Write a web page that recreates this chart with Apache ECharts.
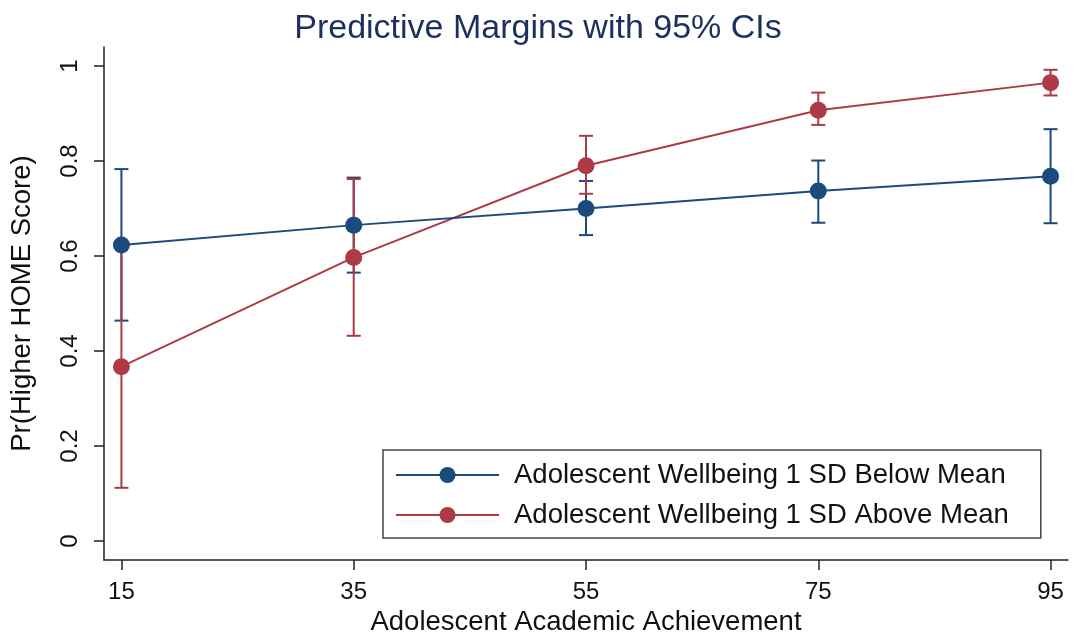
<!DOCTYPE html>
<html>
<head>
<meta charset="utf-8">
<script src="https://cdn.jsdelivr.net/npm/echarts@6/dist/echarts.min.js"></script>
<style>
  html, body { margin: 0; padding: 0; background: #fff; }
  #main { width: 1076px; height: 634px; }
</style>
</head>
<body>
<div id="main"></div>
<script>
// data
var achievement = [15, 35, 55, 75, 95];
var xTicks = [15, 35, 55, 75, 95];
var yTicks = [0, 0.2, 0.4, 0.6, 0.8, 1];

var belowMean = [0.623, 0.665, 0.700, 0.737, 0.768];
var belowLow  = [0.464, 0.565, 0.644, 0.670, 0.669];
var belowHigh = [0.783, 0.765, 0.758, 0.801, 0.867];

var aboveMean = [0.367, 0.597, 0.790, 0.907, 0.965];
var aboveLow  = [0.112, 0.432, 0.731, 0.876, 0.938];
var aboveHigh = [0.623, 0.762, 0.853, 0.944, 0.992];

var blue = '#1b4a7c';
var red = '#ad3a44';
var font = 'Liberation Sans, Arial, sans-serif';

var myChart = echarts.init(document.getElementById('main'));

function pairs(ys) {
    return achievement.map(function (x, i) { return [x, ys[i]]; });
}
function ciData(lo, hi) {
    return achievement.map(function (x, i) { return [x, lo[i], hi[i]]; });
}

// vertical error bar with caps
function ciItem(color) {
    return function (params, api) {
        var top = api.coord([api.value(0), api.value(2)]);
        var bot = api.coord([api.value(0), api.value(1)]);
        var w = 7;
        var st = { stroke: color, lineWidth: 2 };
        return {
            type: 'group',
            children: [
                { type: 'line', shape: { x1: top[0], y1: top[1], x2: bot[0], y2: bot[1] }, style: st },
                { type: 'line', shape: { x1: top[0] - w, y1: top[1], x2: top[0] + w, y2: top[1] }, style: st },
                { type: 'line', shape: { x1: bot[0] - w, y1: bot[1], x2: bot[0] + w, y2: bot[1] }, style: st }
            ]
        };
    };
}

var option = {
    animation: false,
    backgroundColor: '#fff',
    title: {
        text: 'Predictive Margins with 95% CIs',
        left: 'center',
        top: 7,
        textStyle: { fontFamily: font, fontSize: 34, fontWeight: 'normal', color: '#1c2f5e' }
    },
    grid: { left: 104, right: 8, top: 47, bottom: 74, outerBoundsMode: 'none', containLabel: false },
    legend: {
        orient: 'vertical',
        left: 383,
        top: 450,
        padding: [11, 32, 9, 12],
        itemGap: 12,
        itemWidth: 103,
        itemHeight: 20,
        borderColor: '#444',
        borderWidth: 1.5,
        borderRadius: 0,
        textStyle: { fontFamily: font, fontSize: 27.5, color: '#111', padding: [0, 0, 0, 10] },
        data: ['Adolescent Wellbeing 1 SD Below Mean', 'Adolescent Wellbeing 1 SD Above Mean']
    },
    xAxis: {
        type: 'value',
        min: 13.5,
        max: 96.5,
        name: 'Adolescent Academic Achievement',
        nameLocation: 'middle',
        nameGap: 45,
        nameTextStyle: { fontFamily: font, fontSize: 27.5, color: '#111' },
        axisLine: { show: true, onZero: false, lineStyle: { color: '#222', width: 1.5 } },
        axisTick: { show: true, length: 10, customValues: xTicks, lineStyle: { color: '#222', width: 1.5 } },
        axisLabel: { customValues: xTicks, margin: 20, fontFamily: font, fontSize: 24, color: '#111' },
        splitLine: { show: false }
    },
    yAxis: {
        type: 'value',
        min: -0.04,
        max: 1.04,
        name: 'Pr(Higher HOME Score)',
        nameLocation: 'middle',
        nameGap: 68,
        nameTextStyle: { fontFamily: font, fontSize: 27.5, color: '#111' },
        axisLine: { show: true, onZero: false, lineStyle: { color: '#222', width: 1.5 } },
        axisTick: { show: true, length: 10, customValues: yTicks, lineStyle: { color: '#222', width: 1.5 } },
        axisLabel: { customValues: yTicks, rotate: 90, margin: 22, fontFamily: font, fontSize: 24, color: '#111' },
        splitLine: { show: false }
    },
    series: [
        {
            name: 'ci below',
            type: 'custom',
            renderItem: ciItem(blue),
            data: ciData(belowLow, belowHigh),
            z: 2
        },
        {
            name: 'ci above',
            type: 'custom',
            renderItem: ciItem(red),
            data: ciData(aboveLow, aboveHigh),
            z: 2
        },
        {
            name: 'Adolescent Wellbeing 1 SD Below Mean',
            type: 'line',
            data: pairs(belowMean),
            symbol: 'circle',
            symbolSize: 17,
            itemStyle: { color: blue },
            lineStyle: { color: blue, width: 2 },
            z: 4
        },
        {
            name: 'Adolescent Wellbeing 1 SD Above Mean',
            type: 'line',
            data: pairs(aboveMean),
            symbol: 'circle',
            symbolSize: 17,
            itemStyle: { color: red },
            lineStyle: { color: red, width: 2 },
            z: 3
        }
    ]
};

myChart.setOption(option, true);
</script>
</body>
</html>
